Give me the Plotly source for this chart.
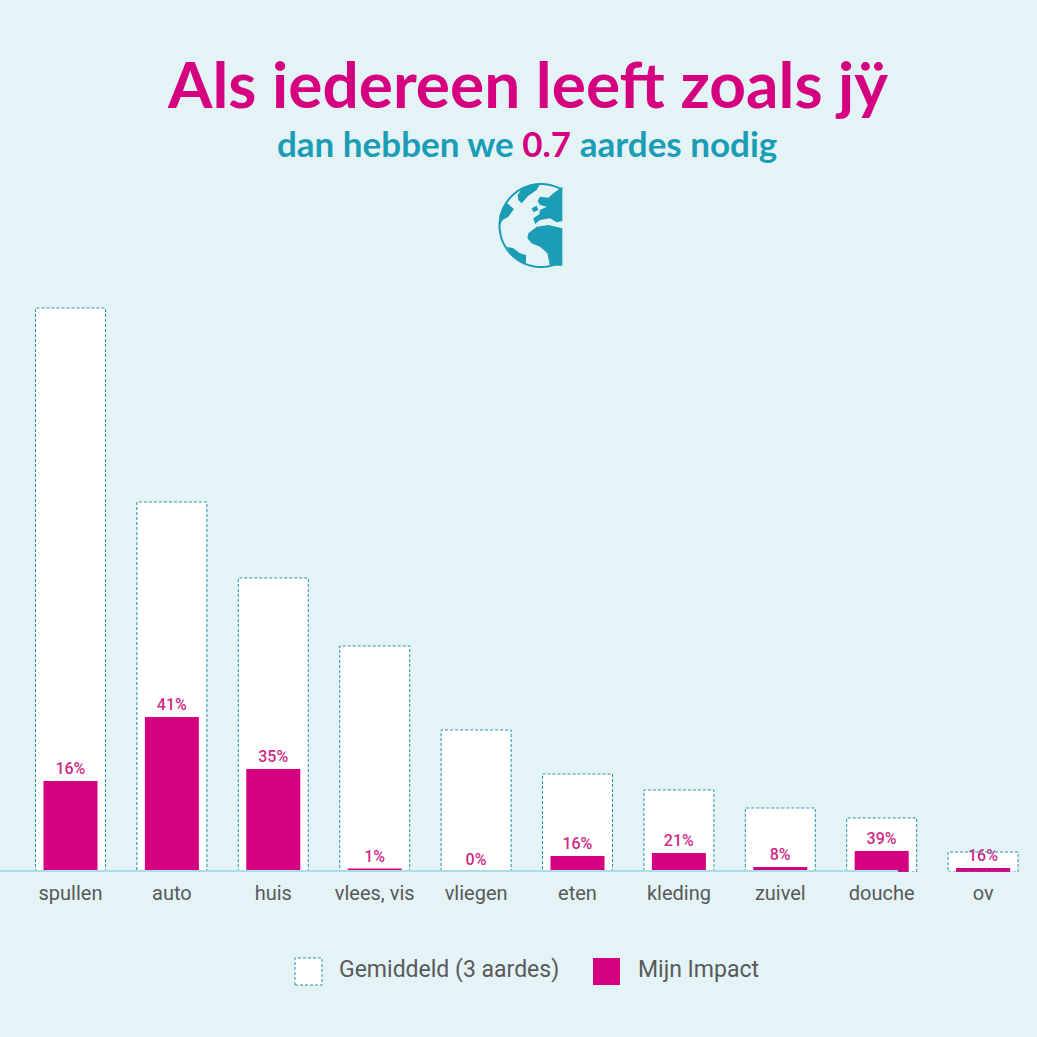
import numpy as np
import plotly.graph_objects as go

W, H = 1037, 1037
BASE_PX = 872

categories = ["spullen", "auto", "huis", "vlees, vis", "vliegen", "eten", "kleding", "zuivel", "douche", "ov"]
gemiddeld = [564, 370, 294, 226, 142, 98, 82, 64, 54, 20]
mijn_impact = [91, 155, 103, 3.5, 0, 16, 19, 5, 21, 4]
percent_labels = ["16%", "41%", "35%", "1%", "0%", "16%", "21%", "8%", "39%", "16%"]

BG = "#e4f3f6"
PINK = "#d5007f"
LABEL_PINK = "#cf2a85"
TEAL = "#1b9db6"
DASH = "#2a93ad"
GREY = "#58595b"
LINE = "#a9dde8"
FONT = "Roboto, Inter, sans-serif"
TITLE_FONT = "Lato, sans-serif"

STEP = 101.4
CENTER0 = 70.5
BOX_W = 70 / STEP
BAR_W = 54 / STEP


def px(x):
    return x / W


def py(y):
    return 1 - y / H


def path_from(points, close=True):
    s = "M " + " L ".join(f"{px(x):.5f},{py(y):.5f}" for x, y in points)
    return s + (" Z" if close else "")


fig = go.Figure()
fig.add_bar(x=list(range(10)), y=gemiddeld, width=(BOX_W - 1 / STEP), name="Gemiddeld (3 aardes)",
            marker=dict(color="white", line=dict(width=0)), showlegend=False, hoverinfo="y")
fig.add_bar(x=list(range(10)), y=mijn_impact, width=BAR_W, name="Mijn Impact",
            marker=dict(color=PINK, line=dict(width=0)), showlegend=False,
            text=percent_labels, textposition="outside", cliponaxis=False,
            textfont=dict(family=FONT, size=16, color=LABEL_PINK, weight=500), hoverinfo="y")

shapes = []
# dashed outlines of the average bars, on the data axes
for i, v in enumerate(gemiddeld):
    shapes.append(dict(type="rect", xref="x", yref="y", x0=i - BOX_W / 2, x1=i + BOX_W / 2, y0=0, y1=v,
                       line=dict(color=DASH, width=1, dash="3px,2px"), fillcolor="rgba(0,0,0,0)", layer="above"))
# baseline
shapes.append(dict(type="rect", xref="paper", yref="paper", x0=0, x1=px(898), y0=py(872), y1=py(870),
                   line=dict(width=0), fillcolor=LINE, layer="above"))
# legend swatches
shapes.append(dict(type="rect", xref="paper", yref="paper", x0=px(295), x1=px(322), y0=py(985), y1=py(958),
                   line=dict(color=DASH, width=1, dash="3px,2px"), fillcolor="white"))
shapes.append(dict(type="rect", xref="paper", yref="paper", x0=px(593), x1=px(620), y0=py(985), y1=py(958),
                   line=dict(width=0), fillcolor=PINK))

# half globe decoration
cx, cy, r, clip = 541.0, 225.5, 41.5, 562.0
a0 = np.arccos((clip - cx) / r)
ang = np.linspace(a0, 2 * np.pi - a0, 80)
arc = [(cx + r * np.cos(a), cy - r * np.sin(a)) for a in ang]
shapes.append(dict(type="path", xref="paper", yref="paper", path=path_from(arc, close=False),
                   line=dict(color=TEAL, width=2), fillcolor="rgba(0,0,0,0)"))
zoomed_land = [
    [(83, 60), (95, 42), (125, 28), (150, 27), (140, 45), (115, 62), (95, 85), (85, 75)],
    [(28, 122), (40, 95), (52, 85), (72, 102), (55, 125), (38, 135), (30, 150)],
    [(150, 65), (175, 68), (190, 55), (217, 35), (217, 138), (200, 142), (180, 130), (150, 135), (135, 147),
     (130, 130), (148, 118), (150, 105), (170, 95), (150, 90), (143, 78)],
    [(125, 100), (140, 92), (145, 105), (130, 112)],
    [(115, 175), (140, 155), (175, 150), (217, 160), (217, 272), (180, 272), (172, 235), (150, 215), (125, 205),
     (112, 190)],
    [(50, 215), (70, 220), (90, 235), (108, 240), (108, 270), (95, 262), (65, 240)],
]
for poly in zoomed_land:
    pts = [(490 + x / 3, 175 + y / 3) for x, y in poly]
    shapes.append(dict(type="path", xref="paper", yref="paper", path=path_from(pts),
                       line=dict(width=0), fillcolor=TEAL))


def note(text, x, y, size, color, anchor="left", family=FONT, weight=400):
    return dict(text=text, xref="paper", yref="paper", x=px(x), y=py(y), showarrow=False, xanchor=anchor,
                yanchor="middle", font=dict(family=family, size=size, color=color, weight=weight))


annotations = [
    note("Als iedereen leeft zoals jÿ", 527, 83, 64, PINK, "center", TITLE_FONT, 700),
    note(f'dan hebben we <span style="color:{PINK}">0.7</span> aardes nodig', 527, 143, 35, TEAL, "center",
         TITLE_FONT, 700),
    note("Gemiddeld (3 aardes)", 337, 969, 23, GREY),
    note("Mijn Impact", 636, 969, 23, GREY),
]

fig.update_layout(
    width=W, height=H, autosize=False, barmode="overlay", showlegend=False,
    margin=dict(l=0, r=0, t=0, b=0), paper_bgcolor=BG, plot_bgcolor=BG,
    shapes=shapes, annotations=annotations,
    xaxis=dict(range=[-CENTER0 / STEP, (W - CENTER0) / STEP], tickmode="array", tickvals=list(range(10)),
               ticktext=categories, showgrid=False, zeroline=False, showline=False, ticks="",
               ticklabelstandoff=7, tickfont=dict(family=FONT, size=20, color=GREY)),
    yaxis=dict(domain=[py(BASE_PX), 1], range=[0, BASE_PX], visible=False),
)

fig.write_html("out.html", config={"displayModeBar": False},
               post_script=f"document.body.style.margin='0';document.body.style.background='{BG}';")
